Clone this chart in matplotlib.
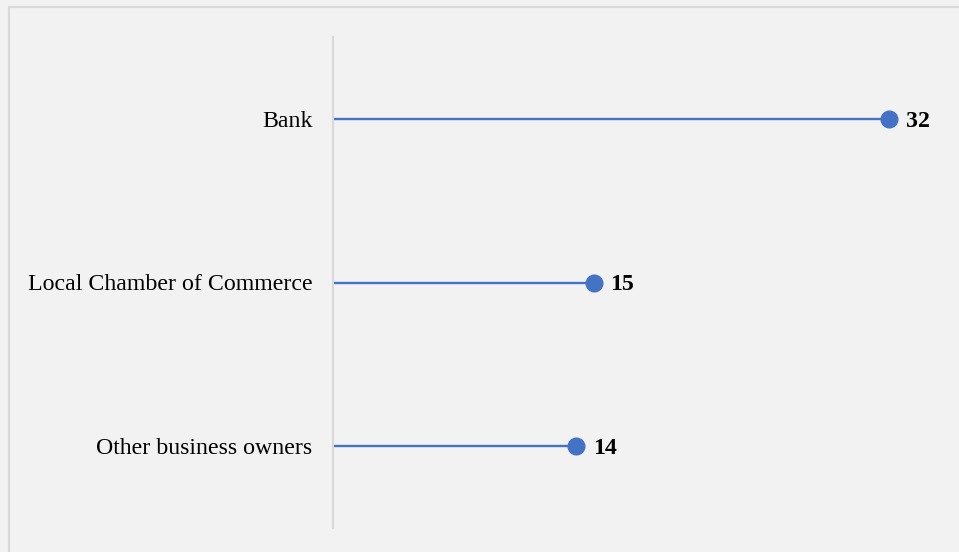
import matplotlib.pyplot as plt
from matplotlib.patches import Rectangle

categories = ["Bank", "Local Chamber of Commerce", "Other business owners"]
values = [32, 15, 14]

color = "#4472C4"
bg = "#f2f2f2"

fig = plt.figure(figsize=(9.59, 5.52), dpi=100, facecolor=bg)
plt.rcParams["font.family"] = ["Liberation Serif", "DejaVu Serif"]

# outer border of the chart area
fig.patches.append(Rectangle((9 / 959, -0.5), 2, 1.5 - 7 / 552,
                             transform=fig.transFigure, fill=False,
                             edgecolor="#d9d9d9", linewidth=1.5))

ax = fig.add_axes([333 / 959, (552 - 528) / 552, (941 - 333) / 959, (528 - 37) / 552])
ax.set_facecolor(bg)

ys = list(range(len(categories)))
for y, v in zip(ys, values):
    ax.plot([0, v], [y, y], color=color, linewidth=1.7, zorder=2)
    ax.plot([v], [y], "o", color=color, markersize=12, zorder=3)
    ax.annotate(str(v), (v, y), xytext=(12, 0), textcoords="offset points",
                va="center_baseline", ha="left", fontsize=17.2, fontweight="bold")

ax.set_xlim(0, 35)
ax.set_ylim(len(categories) - 0.5, -0.5)
ax.set_yticks(ys)
ax.set_yticklabels(categories, fontsize=17.2, va="center_baseline")
ax.tick_params(axis="y", length=0, pad=15)
ax.set_xticks([])
for side in ["top", "right", "bottom"]:
    ax.spines[side].set_visible(False)
ax.spines["left"].set_color("#d9d9d9")
ax.spines["left"].set_linewidth(1.5)

fig.savefig("out.png", dpi=100, facecolor=bg)
